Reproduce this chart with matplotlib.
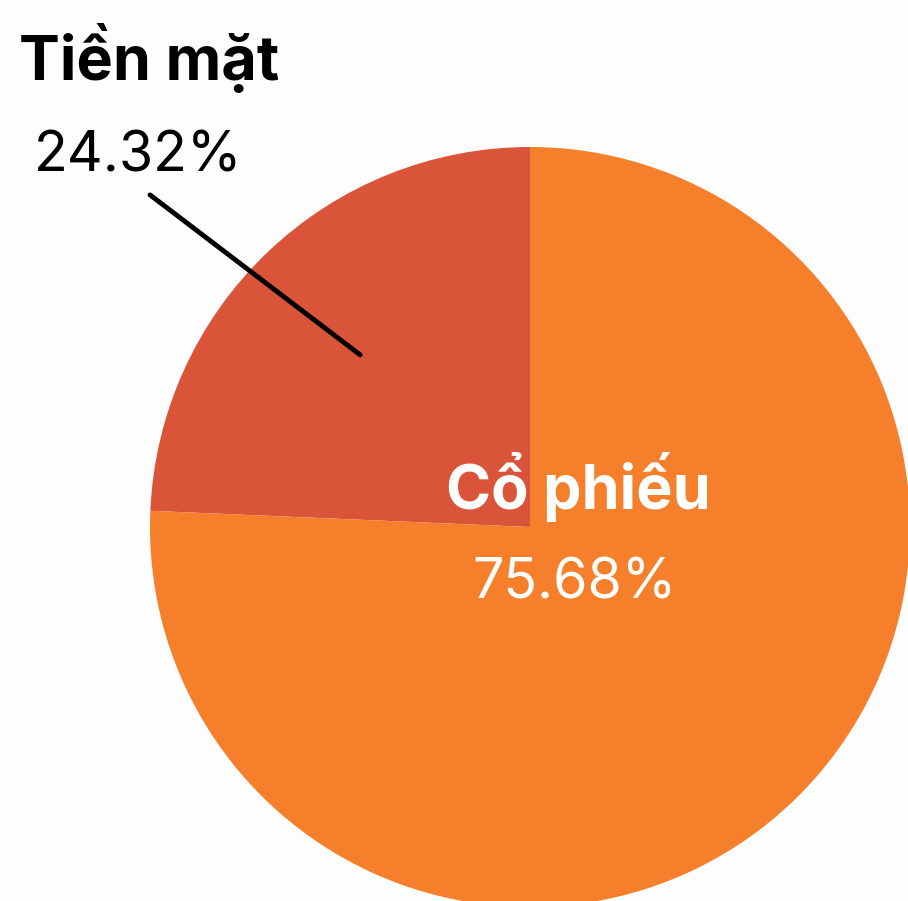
import matplotlib.pyplot as plt

labels = ["Tiền mặt", "Cổ phiếu"]
shares = [24.32, 75.68]
colors = ["#da543a", "#f57f2a"]

plt.rcParams["font.family"] = ["Inter", "Noto Sans", "DejaVu Sans"]

fig = plt.figure(figsize=(9.08, 9.01), dpi=100, facecolor="#fdfdfd")
# pie is bigger than the canvas, right and bottom get cut off
ax = fig.add_axes([150 / 908, -6 / 901, 760 / 908, 760 / 901])
ax.set_facecolor("none")

ax.pie(shares, colors=colors, startangle=90, counterclock=True, radius=1,
       wedgeprops={"linewidth": 0})
ax.set_xlim(-1, 1)
ax.set_ylim(-1, 1)
ax.axis("off")

# outside label for the small slice
ax.text(-1.003, 1.234, labels[0], ha="center", va="center", fontsize=44,
        fontweight="bold", color="black", clip_on=False)
ax.text(-1.03, 0.975, f"{shares[0]:.2f}%", ha="center", va="center", fontsize=40,
        fontweight="normal", color="black", clip_on=False)
ax.plot([-1.0, -0.447], [0.874, 0.453], color="black", lw=3.5,
        solid_capstyle="round", clip_on=False)

# inside label for the big slice
ax.text(0.126, 0.105, labels[1], ha="center", va="center", fontsize=44,
        fontweight="bold", color="white")
ax.text(0.118, -0.148, f"{shares[1]:.2f}%", ha="center", va="center", fontsize=40,
        fontweight="normal", color="white")

fig.savefig("out.png", dpi=100, facecolor=fig.get_facecolor())
